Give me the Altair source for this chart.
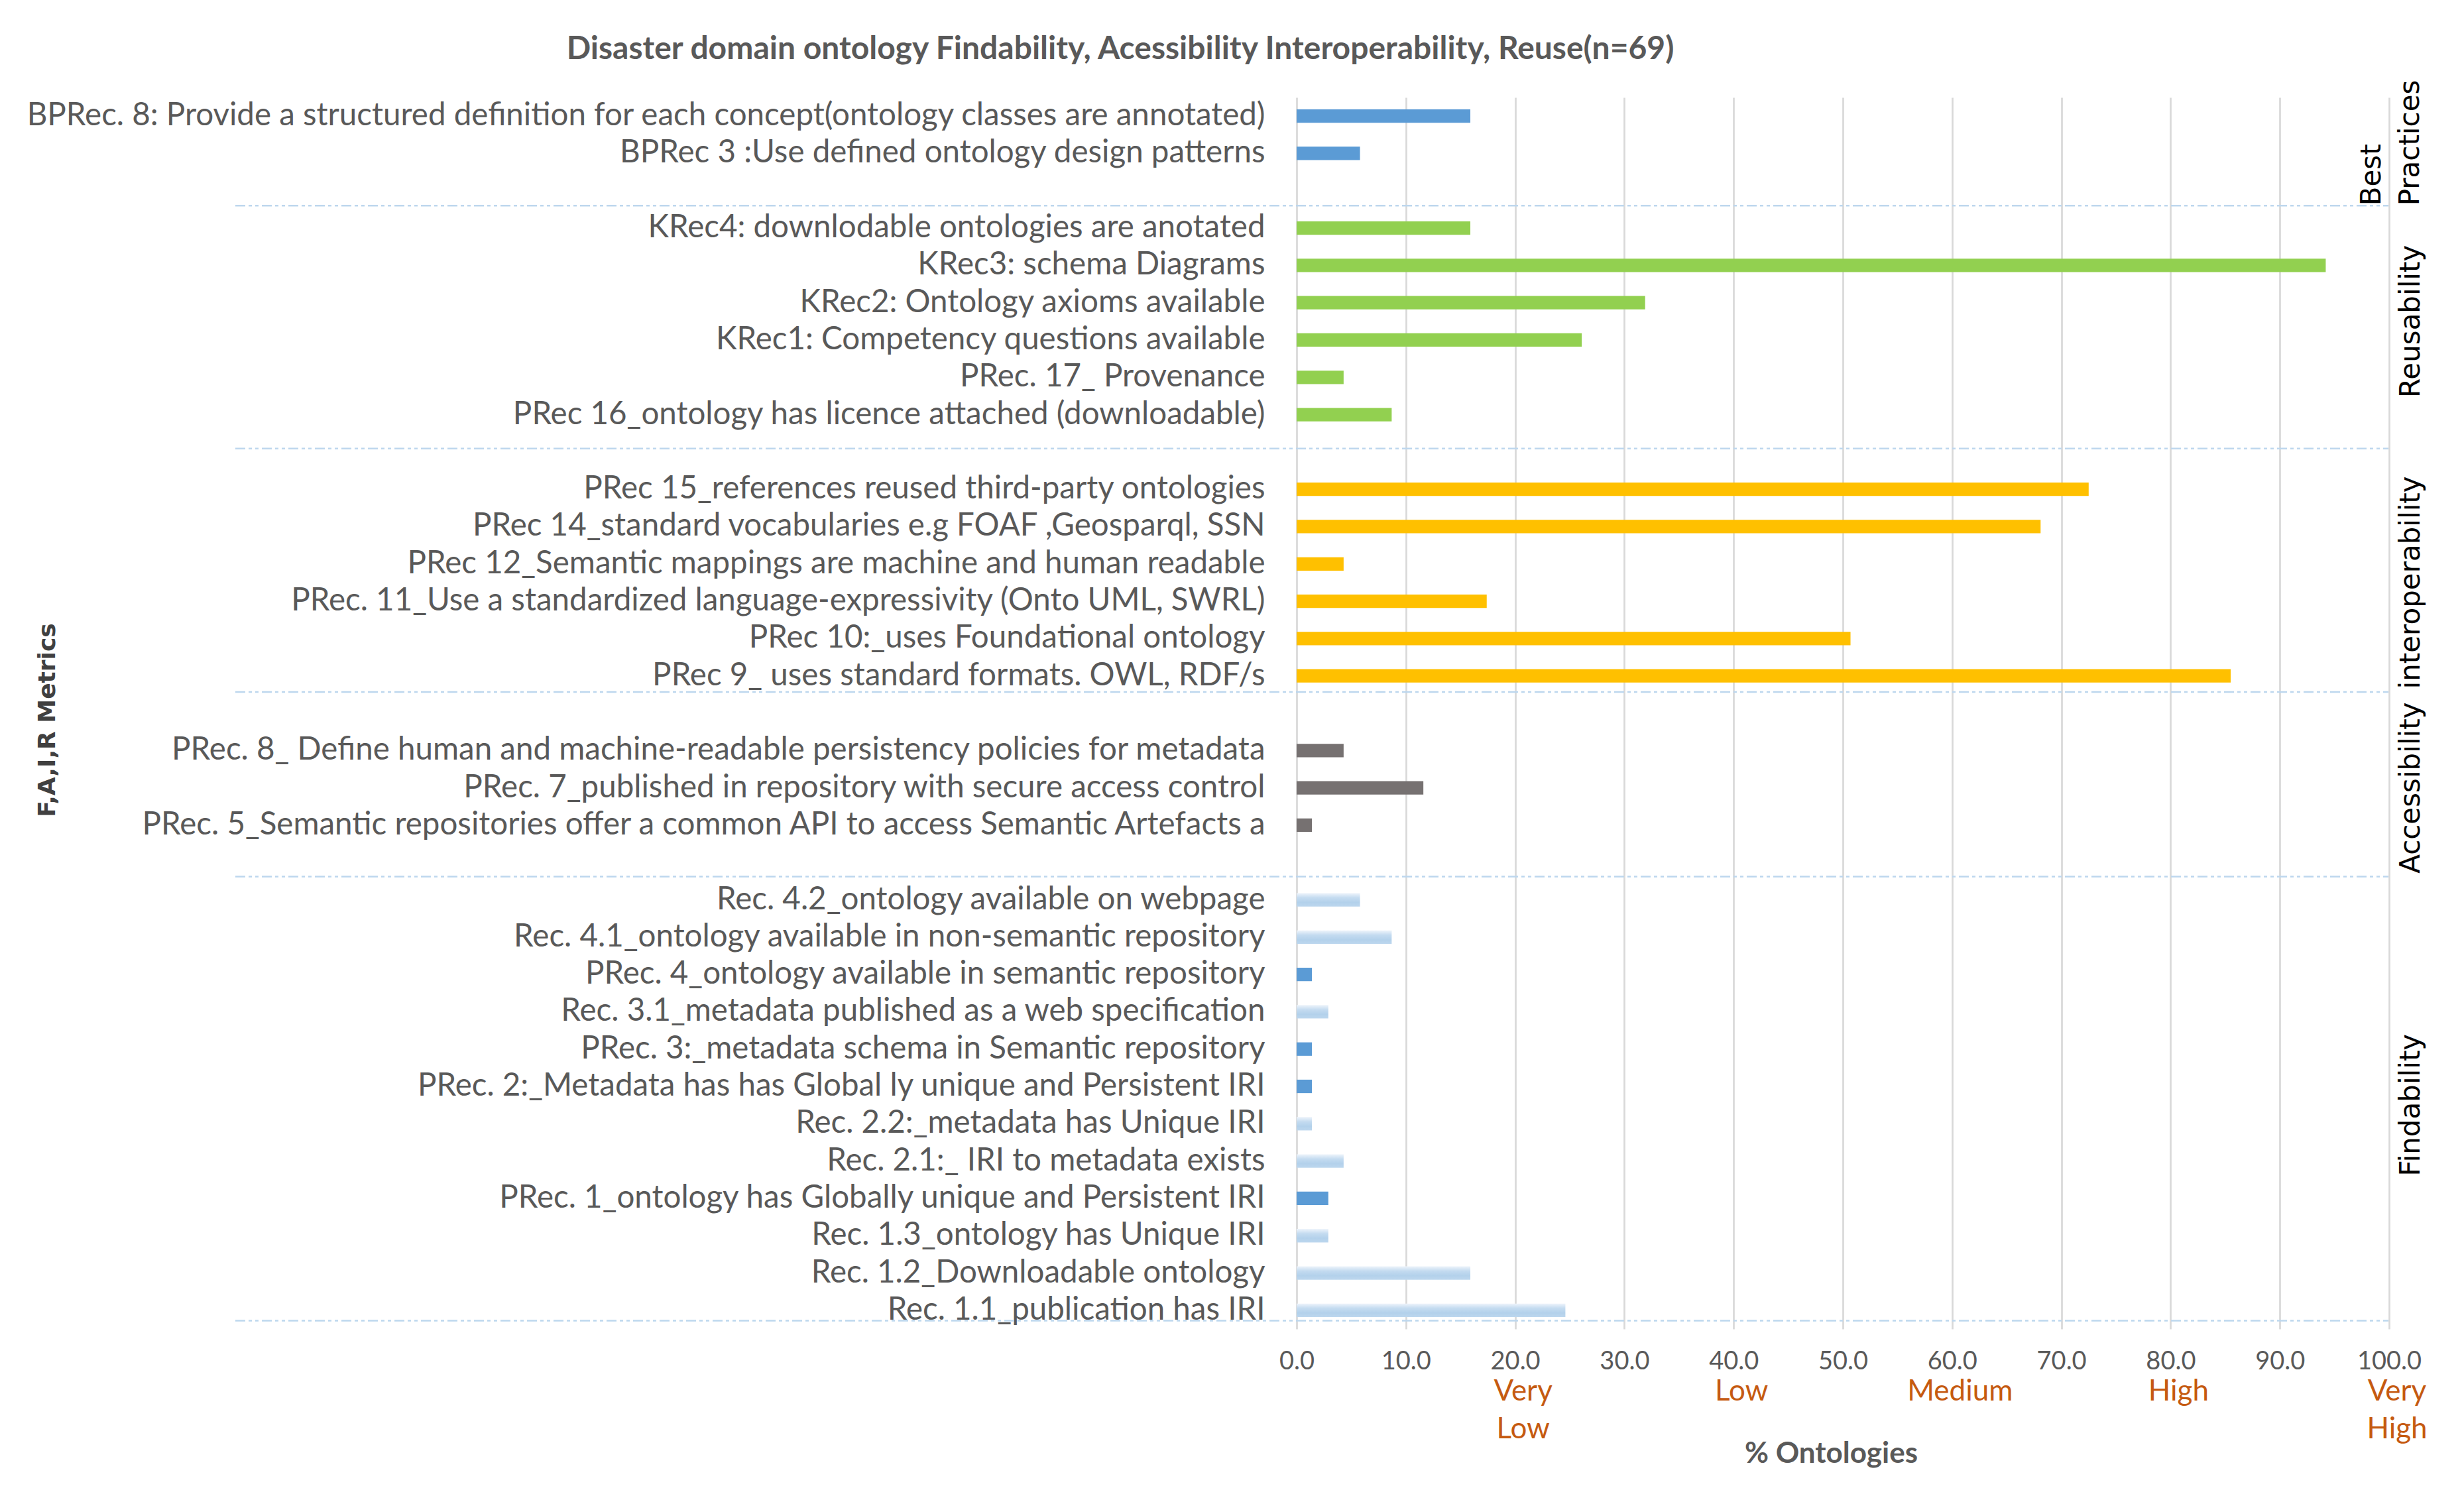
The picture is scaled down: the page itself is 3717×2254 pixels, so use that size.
import altair as alt
import pandas as pd

# ---------------- data ----------------
categories = [
    "BPRec. 8: Provide a structured definition for each concept(ontology classes are annotated)",
    "BPRec 3 :Use defined ontology design patterns",
    " ",
    "KRec4: downlodable ontologies are anotated",
    "KRec3: schema Diagrams",
    "KRec2: Ontology axioms available",
    "KRec1: Competency questions available",
    "PRec. 17_ Provenance ",
    "PRec 16_ontology has licence attached (downloadable)",
    "  ",
    "PRec 15_references  reused third-party ontologies",
    "PRec 14_standard vocabularies e.g FOAF ,Geosparql, SSN",
    "PRec 12_Semantic mappings are machine and human readable",
    "PRec. 11_Use a standardized language-expressivity (Onto UML, SWRL)",
    "PRec 10:_uses Foundational ontology",
    "PRec 9_  uses standard formats. OWL, RDF/s",
    "   ",
    "PRec. 8_ Define human and machine-readable persistency policies for metadata",
    "PRec. 7_published  in repository  with secure access control ",
    "PRec. 5_Semantic repositories offer a common API to access Semantic Artefacts a",
    "    ",
    "Rec. 4.2_ontology available on webpage",
    "Rec. 4.1_ontology available in non-semantic repository",
    "PRec. 4_ontology available in semantic repository",
    "Rec. 3.1_metadata published as a web specification",
    "PRec. 3:_metadata schema in Semantic repository ",
    "PRec. 2:_Metadata has has Global ly unique and Persistent IRI",
    "Rec. 2.2:_metadata has Unique IRI",
    "Rec. 2.1:_  IRI to metadata exists",
    "PRec. 1_ontology has Globally unique and Persistent IRI",
    "Rec. 1.3_ontology has Unique IRI",
    "Rec. 1.2_Downloadable ontology",
    "Rec. 1.1_publication has IRI ",
]
values = [
    15.9, 5.8, None,
    15.9, 94.2, 31.9, 26.1, 4.3, 8.7, None,
    72.5, 68.1, 4.3, 17.4, 50.7, 85.5, None,
    4.3, 11.6, 1.4, None,
    5.8, 8.7, 1.4, 2.9, 1.4, 1.4, 1.4, 4.3, 2.9, 2.9, 15.9, 24.6,
]
series = [
    "Best Practices", "Best Practices", None,
    "Reusability", "Reusability", "Reusability", "Reusability", "Reusability", "Reusability", None,
    "Interoperability", "Interoperability", "Interoperability", "Interoperability", "Interoperability",
    "Interoperability", None,
    "Accessibility", "Accessibility", "Accessibility", None,
    "Findability Rec", "Findability Rec", "Findability PRec", "Findability Rec", "Findability PRec",
    "Findability PRec", "Findability Rec", "Findability Rec", "Findability PRec", "Findability Rec",
    "Findability Rec", "Findability Rec",
]
series_names = ["Best Practices", "Reusability", "Interoperability", "Accessibility", "Findability PRec"]
series_colors = ["#5B9BD5", "#92D050", "#FFC000", "#767171", "#5B9BD5"]

group_labels = ["Best\nPractices", "Reusability", "interoperability", "Accessibility", "Findability"]
separator_rows = [2.4, 8.91, 15.43, 20.38, 32.28]

level_x = [20, 40, 60, 80, 100]
level_text = ["Very\nLow", "Low", "Medium", "High", "Very\nHigh"]

# ---------------- tables ----------------
df = pd.DataFrame({"cat": categories, "val": values, "series": series, "row": range(len(categories))})
bars = df.dropna(subset=["val"])

# group label positions: centre of the rows of each group
grp_rows = {}
for i, s in enumerate(series):
    if s is None:
        continue
    key = s.split(" ")[0] if s.startswith("Findability") else s
    grp_rows.setdefault(key, []).append(i)
order = ["Best Practices", "Reusability", "Interoperability", "Accessibility", "Findability"]
centers = [sum(grp_rows[k]) / len(grp_rows[k]) for k in order]
glab = pd.DataFrame({"label": group_labels[1:], "pos": centers[1:]})
bp_lab = pd.DataFrame({"label": [group_labels[0]], "pos": [separator_rows[0]]})

seps = pd.DataFrame({"pos": separator_rows})
levels = pd.DataFrame({"x": level_x, "t": level_text})

W, H = 1648, 1858
LABEL_FONT = "Lato"
idx_scale = alt.Scale(domain=[-0.5, len(categories) - 0.5], reverse=True, nice=False, zero=False)
xscale = alt.Scale(domain=[0, 100], nice=False)
band_scale = alt.Scale(domain=categories, paddingInner=0.64, paddingOuter=0.32)

yband = alt.Y(
    "cat:N",
    scale=band_scale,
    axis=alt.Axis(
        title="F,A,I,R Metrics",
        titleFont="DejaVu Sans",
        titleFontWeight="bold",
        titleFontSize=36,
        titleColor="#404040",
        titleX=-1885,
        titleY=939,
        titleAngle=270,
        titleAlign="center",
        titleBaseline="middle",
        labelFont=LABEL_FONT,
        labelFontSize=47.5,
        labelColor="#595959",
        labelPadding=48,
        labelLimit=3000,
        ticks=False,
        domain=False,
        grid=False,
    ),
)

xaxis = alt.X(
    "val:Q",
    scale=xscale,
    axis=alt.Axis(
        values=[0, 10, 20, 30, 40, 50, 60, 70, 80, 90, 100],
        format=".1f",
        grid=True,
        gridColor="#D9D9D9",
        gridWidth=2.7,
        domain=False,
        ticks=False,
        labelFlush=False,
        labelFont=LABEL_FONT,
        labelFontSize=38,
        labelColor="#595959",
        labelPadding=30,
        title="% Ontologies",
        titleFont=LABEL_FONT,
        titleFontSize=44,
        titleFontWeight="bold",
        titleColor="#595959",
        titleX=806,
        titleY=188,
        titleBaseline="middle",
    ),
)

solid = alt.Chart(bars).transform_filter(
    alt.datum.series != "Findability Rec"
).mark_bar().encode(
    y=yband,
    x=xaxis,
    color=alt.Color("series:N", scale=alt.Scale(domain=series_names, range=series_colors), legend=None),
)

grad = alt.Chart(bars).transform_filter(
    alt.datum.series == "Findability Rec"
).mark_bar(
    color=alt.Gradient(
        gradient="linear",
        x1=0, x2=0, y1=0, y2=1,
        stops=[
            alt.GradientStop(color="#EEF4FB", offset=0),
            alt.GradientStop(color="#C4DBF0", offset=0.35),
            alt.GradientStop(color="#B3D1EB", offset=0.7),
            alt.GradientStop(color="#BDD7EE", offset=1),
        ],
    )
).encode(
    y=alt.Y("cat:N", scale=band_scale, axis=None),
    x=alt.X("val:Q", scale=xscale),
)

sep_layer = alt.Chart(seps).mark_rule(
    color="#BDD7EE", strokeWidth=2.5, strokeDash=[15, 5, 5, 5, 5, 5]
).encode(
    y=alt.Y("pos:Q", scale=idx_scale, axis=None),
    x=alt.value(-1601),
    x2=alt.value(W - 1),
)

grp_layer = alt.Chart(glab).mark_text(
    angle=270, font="DejaVu Sans", fontSize=42, color="#000000", align="center", baseline="middle"
).encode(
    y=alt.Y("pos:Q", scale=idx_scale, axis=None),
    x=alt.value(W + 33),
    text="label:N",
)

bp_layer = alt.Chart(bp_lab).mark_text(
    angle=270, font="DejaVu Sans", fontSize=42, color="#000000", align="left", baseline="middle",
    lineBreak="\n", lineHeight=58,
).encode(
    y=alt.Y("pos:Q", scale=idx_scale, axis=None),
    x=alt.value(W - 26),
    text="label:N",
)

lvl_layer = alt.Chart(levels).mark_text(
    font=LABEL_FONT, fontSize=44, color="#C55A11", align="center", baseline="top",
    lineBreak="\n", lineHeight=57, dx=12,
).encode(
    x=alt.X("x:Q", scale=xscale),
    y=alt.value(1931),
    text="t:N",
)

chart = alt.layer(solid, grad, sep_layer, grp_layer, bp_layer, lvl_layer).resolve_scale(
    y="independent"
).properties(
    width=W,
    height=H,
    autosize=alt.AutoSizeParams(type="none"),
    padding={"left": 1948, "top": 139, "right": 100, "bottom": 230},
    title=alt.TitleParams(
        "Disaster domain ontology Findability, Acessibility Interoperability,  Reuse(n=69)",
        font=LABEL_FONT,
        fontSize=48,
        fontWeight="bold",
        color="#595959",
        anchor="middle",
        frame="group",
        dx=-1090,
        offset=22,
    ),
).configure_view(stroke=None)

chart.save("out.html", embed_options={"renderer": "svg", "actions": False})
